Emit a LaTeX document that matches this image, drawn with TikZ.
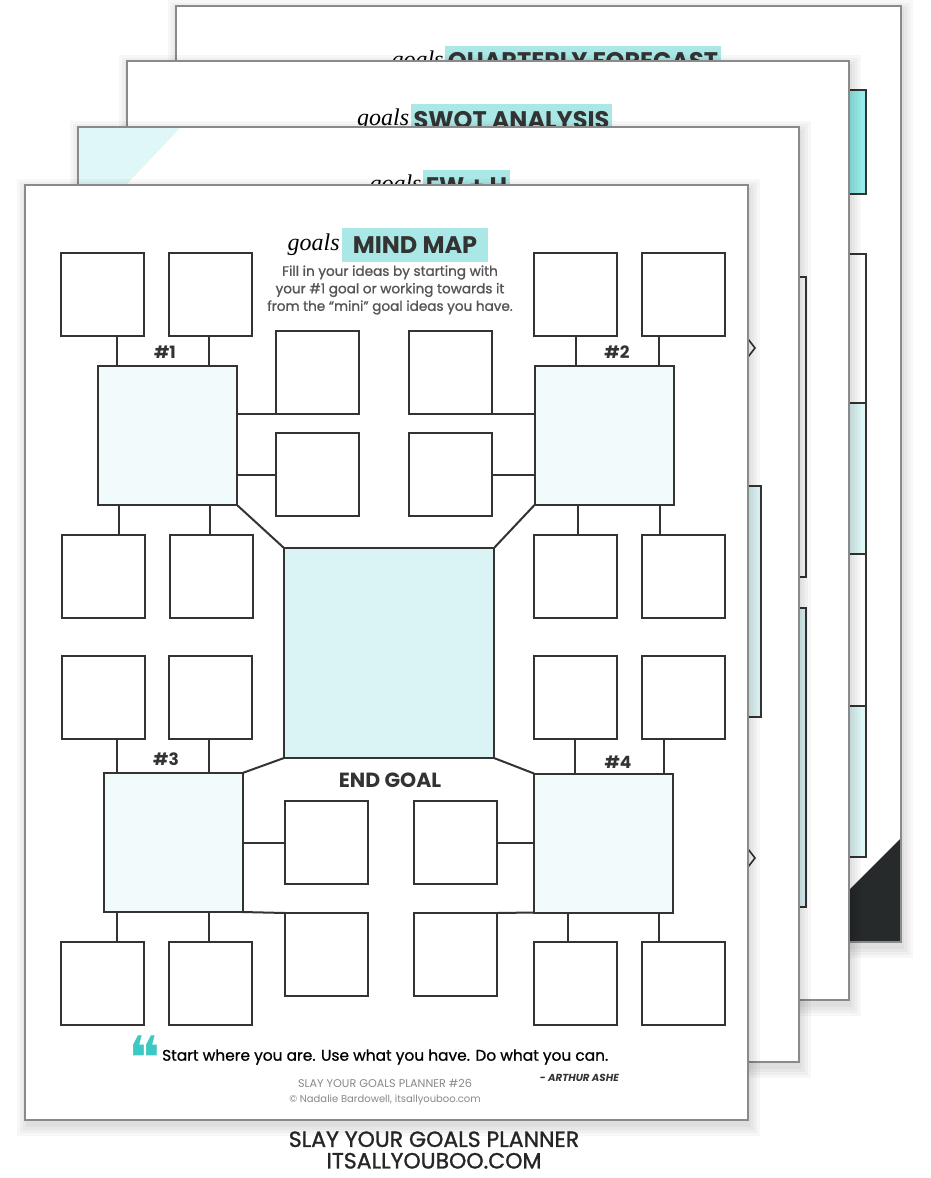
\documentclass[tikz,border=0pt]{standalone}
\usepackage{fontspec}
\setmainfont{Poppins}
\newfontfamily\semi{Poppins}[FakeBold=1.2]
\newfontfamily\hand{Poppins}[FakeBold=0.8]
\newfontfamily\scr{Liberation Serif}
\newfontfamily\dejavu{DejaVu Sans}
\usetikzlibrary{calc}
\definecolor{ink}{HTML}{333333}
\definecolor{pageline}{HTML}{8A8A8A}
\definecolor{hl}{HTML}{A9E8E6}
\definecolor{cyanbox}{HTML}{96EEEC}
\definecolor{hubfill}{HTML}{F2FBFB}
\definecolor{centerfill}{HTML}{DAF4F5}
\definecolor{stripfill}{HTML}{E0F7F7}
\definecolor{quoteteal}{HTML}{3DC8C4}
\definecolor{subgray}{HTML}{555555}
\definecolor{darkcorner}{HTML}{262A2A}
\tikzset{
  sbox/.style={draw=ink, line width=2pt, fill=white, minimum width=83pt, minimum height=83pt, inner sep=0pt, outer sep=0pt},
  hub/.style={sbox, fill=hubfill, minimum width=139pt, minimum height=139pt},
  centerbox/.style={sbox, fill=centerfill, minimum width=210pt, minimum height=210pt},
  link/.style={draw=ink, line width=2pt},
  pagerect/.style={draw=pageline, line width=2pt, fill=white},
  pageshadow/.style={fill=black, opacity=0.03},
  strip/.style={draw=ink, line width=1.6pt},
  hltitle/.style={fill=hl, text=ink, inner xsep=3pt, inner ysep=0pt, minimum height=32pt, font=\bfseries\fontsize{24}{24}\selectfont},
  scriptword/.style={font=\scr\itshape\fontsize{24}{24}\selectfont, text=black, inner sep=1pt},
  hublabel/.style={font=\bfseries\fontsize{17}{17}\selectfont, text=ink},
}
\begin{document}
\begin{tikzpicture}[x=1pt,y=-1pt]
\useasboundingbox (0,0) rectangle (930,1178);
\fill[white] (0,0) rectangle (930,1178);

% ---------- page 4 : quarterly forecast ----------
\foreach \d in {2,5,8,11}{\fill[pageshadow] (176-\d+3,6-\d+5) rectangle (901+\d+1,942+\d+5);}
\draw[pagerect] (176,6) rectangle (901,942);
\node[hltitle] (qf) at (583,62) {QUARTERLY FORECAST};
\node[scriptword, anchor=east] (qfs) at (qf.west) {goals};
\draw[strip, fill=cyanbox] (820,90) rectangle (866,194);
\draw[strip, fill=white] (820,254) rectangle (866,403);
\draw[strip, fill=stripfill] (820,403) rectangle (866,554);
\draw[strip, fill=white] (820,554) rectangle (866,706);
\draw[strip, fill=stripfill] (820,706) rectangle (866,857);
\fill[darkcorner] (820,919) -- (900,839) -- (900,941) -- (820,941) -- cycle;
\draw[pageline, line width=2pt] (176,6) rectangle (901,942);

% ---------- page 3 : SWOT ----------
\foreach \d in {2,5,8,11}{\fill[pageshadow] (127-\d+3,61-\d+5) rectangle (849+\d+1,1000+\d+5);}
\draw[pagerect] (127,61) rectangle (849,1000);
\node[hltitle] (sw) at (511.5,120) {SWOT ANALYSIS};
\node[scriptword, anchor=east] (sws) at (sw.west) {goals};
\draw[strip, fill=white] (770,277) rectangle (806,577);
\draw[strip, fill=stripfill] (770,608) rectangle (806,907);

% ---------- page 2 : FW + H ----------
\foreach \d in {2,5,8,11}{\fill[pageshadow] (78-\d+3,127-\d+5) rectangle (799+\d+1,1062+\d+5);}
\draw[pagerect] (78,127) rectangle (799,1062);
\fill[stripfill] (79,128) -- (180,128) -- (125,186) -- (79,186) -- cycle;
\node[hltitle] (fw) at (466.5,186) {FW + H};
\node[scriptword, anchor=east] (fws) at (fw.west) {goals};
\draw[strip, fill=stripfill] (720,486) rectangle (761,717);
\draw[ink, line width=1.6pt] (748,339) -- (755,348) -- (748,357);
\draw[ink, line width=1.6pt] (748,849) -- (755,858) -- (748,867);

% ---------- page 1 : mind map ----------
\foreach \d in {2,5,8,11}{\fill[pageshadow] (25-\d+3,185-\d+5) rectangle (748+\d+1,1120+\d+5);}
\draw[pagerect] (25,185) rectangle (748,1120);

% title
\node[hltitle, minimum width=146pt, minimum height=34pt] (mm) at (415,245) {MIND MAP};
\node[scriptword, anchor=east] (mms) at ([xshift=-1pt]mm.west) {goals};
\node[align=center, text=subgray, font=\semi\fontsize{13.6}{17.5}\selectfont, inner sep=0pt] (sub) at (390,290)
  {Fill in your ideas by starting with\\your \#1 goal or working towards it\\from the “mini” goal ideas you have.};

% hubs and centre
\node[hub] (h1) at (167.5,435.5) {};
\node[hub] (h2) at (604,435.5) {};
\node[hub] (h3) at (173,842.5) {};
\node[hub] (h4) at (603.5,843) {};
\node[centerbox] (ctr) at (389,653) {};

% small boxes
\node[sbox] (a1) at (102,294.5) {};
\node[sbox] (a2) at (210.5,294.5) {};
\node[sbox] (a3) at (317.5,372.5) {};
\node[sbox] (a4) at (317.5,474.5) {};
\node[sbox] (a5) at (103.5,576.5) {};
\node[sbox] (a6) at (211.5,576.5) {};
\node[sbox] (b1) at (575.5,294.5) {};
\node[sbox] (b2) at (683.5,294.5) {};
\node[sbox] (b3) at (450.5,372.5) {};
\node[sbox] (b4) at (450.5,474.5) {};
\node[sbox] (b5) at (575.5,576.5) {};
\node[sbox] (b6) at (683.5,576.5) {};
\node[sbox] (c1) at (103.5,697.5) {};
\node[sbox] (c2) at (210.5,697.5) {};
\node[sbox] (c3) at (326.5,842.5) {};
\node[sbox] (c4) at (326.5,954.5) {};
\node[sbox] (c5) at (102.5,983.5) {};
\node[sbox] (c6) at (210.5,983.5) {};
\node[sbox] (d1) at (575.5,697.5) {};
\node[sbox] (d2) at (683.5,697.5) {};
\node[sbox] (d3) at (455.5,842.5) {};
\node[sbox] (d4) at (455.5,954.5) {};
\node[sbox] (d5) at (575.5,983.5) {};
\node[sbox] (d6) at (683.5,983.5) {};

% connectors hub 1
\draw[link] ([xshift=19pt]h1.north west) -- ([xshift=19pt]h1.north west |- a1.south);
\draw[link] ([xshift=111pt]h1.north west) -- ([xshift=111pt]h1.north west |- a2.south);
\draw[link] ([xshift=21pt]h1.south west) -- ([xshift=21pt]h1.south west |- a5.north);
\draw[link] ([xshift=112pt]h1.south west) -- ([xshift=112pt]h1.south west |- a6.north);
\draw[link] (h1.east |- a3.south west) -- (a3.south west);
\draw[link] (h1.east |- a4.west) -- (a4.west);
% connectors hub 2
\draw[link] ([xshift=41pt]h2.north west) -- ([xshift=41pt]h2.north west |- b1.south);
\draw[link] ([xshift=124pt]h2.north west) -- ([xshift=124pt]h2.north west |- b2.south);
\draw[link] ([xshift=43pt]h2.south west) -- ([xshift=43pt]h2.south west |- b5.north);
\draw[link] ([xshift=125pt]h2.south west) -- ([xshift=125pt]h2.south west |- b6.north);
\draw[link] (h2.west |- b3.south east) -- (b3.south east);
\draw[link] (h2.west |- b4.east) -- (b4.east);
% connectors hub 3
\draw[link] ([xshift=13pt]h3.north west) -- ([xshift=13pt]h3.north west |- c1.south);
\draw[link] ([xshift=105pt]h3.north west) -- ([xshift=105pt]h3.north west |- c2.south);
\draw[link] ([xshift=13pt]h3.south west) -- ([xshift=13pt]h3.south west |- c5.north);
\draw[link] ([xshift=105pt]h3.south west) -- ([xshift=105pt]h3.south west |- c6.north);
\draw[link] (h3.east |- c3.west) -- (c3.west);
\draw[link] (h3.south east) -- (c4.north west);
% connectors hub 4
\draw[link] ([xshift=41pt]h4.north west) -- ([xshift=41pt]h4.north west |- d1.south);
\draw[link] ([xshift=130pt]h4.north west) -- ([xshift=130pt]h4.north west |- d2.south);
\draw[link] ([xshift=34pt]h4.south west) -- ([xshift=34pt]h4.south west |- d5.north);
\draw[link] ([xshift=125pt]h4.south west) -- ([xshift=125pt]h4.south west |- d6.north);
\draw[link] (h4.west |- d3.east) -- (d3.east);
\draw[link] (h4.south west) -- (d4.north east);
% diagonals to centre
\draw[link] (h1.south east) -- (ctr.north west);
\draw[link] (h2.south west) -- (ctr.north east);
\draw[link] (ctr.south west) -- (h3.north east);
\draw[link] (ctr.south east) -- (h4.north west);

% labels
\node[hublabel] (l1) at (165,352) {\#1};
\node[hublabel] (l2) at (617,352) {\#2};
\node[hublabel] (l3) at (166,759) {\#3};
\node[hublabel] (l4) at (618,762) {\#4};
\node[font=\bfseries\fontsize{20.5}{20.5}\selectfont, text=ink] (eg) at (390,780) {END GOAL};

% quote
\node[font=\dejavu\fontsize{60}{60}\selectfont, text=quoteteal, inner sep=0pt] (qm) at (145,1058) {❝};
\node[anchor=west, font=\hand\fontsize{15.4}{15.4}\selectfont, text=black, inner sep=0pt] (qt) at (162,1057) {Start where you are. Use what you have. Do what you can.};
\node[anchor=east, font=\bfseries\itshape\fontsize{10.2}{10.2}\selectfont, text=ink, inner sep=0pt] (qa) at (619,1078) {- ARTHUR ASHE};
\node[font=\fontsize{11.2}{11.2}\selectfont, text=subgray!70, inner sep=0pt] (ft1) at (385,1083) {SLAY YOUR GOALS PLANNER \#26};
\node[font=\fontsize{10}{10}\selectfont, text=subgray!70, inner sep=0pt] (ft2) at (385,1100) {© Nadalie Bardowell, itsallyouboo.com};

% caption below pages
\node[align=center, text=black!85, font=\semi\fontsize{22}{21.5}\selectfont, inner sep=0pt] (cap) at (434,1150) {SLAY YOUR GOALS PLANNER\\ITSALLYOUBOO.COM};
\end{tikzpicture}
\end{document}
